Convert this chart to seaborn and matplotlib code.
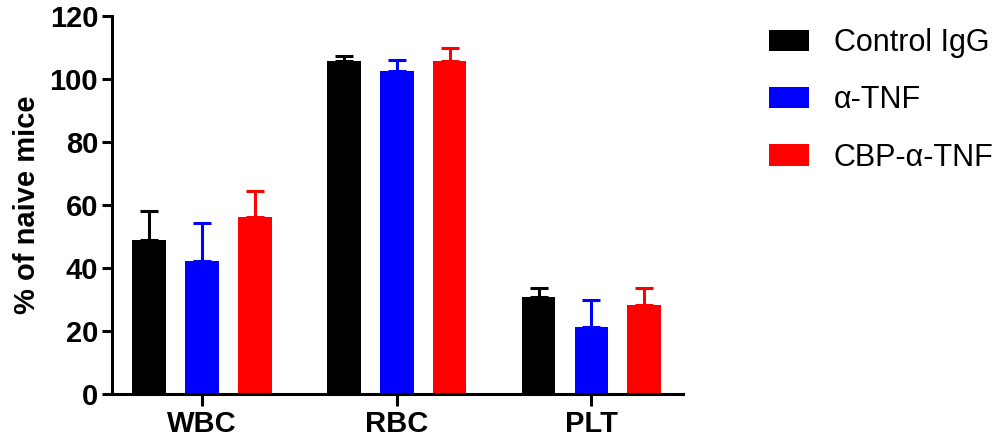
import numpy as np
import pandas as pd
import seaborn as sns
import matplotlib.pyplot as plt

# values
categories = ["WBC", "RBC", "PLT"]
groups = ["Control IgG", "\u03b1-TNF", "CBP-\u03b1-TNF"]
colors = ["#000000", "#0000ff", "#ff0000"]

control_mean = [48.9, 105.7, 30.8]
control_err = [9.0, 1.5, 2.8]
atnf_mean = [42.1, 102.3, 21.4]
atnf_err = [12.3, 3.7, 8.3]
cbp_mean = [56.0, 105.5, 28.1]
cbp_err = [8.5, 4.2, 5.5]

means = [control_mean, atnf_mean, cbp_mean]
errs = [control_err, atnf_err, cbp_err]

df = pd.DataFrame({
    "cell": categories * 3,
    "group": np.repeat(groups, 3),
    "value": control_mean + atnf_mean + cbp_mean,
})

sns.set_style("ticks", {"axes.edgecolor": "black", "text.color": "black",
                        "xtick.color": "black", "ytick.color": "black",
                        "axes.labelcolor": "black"})
plt.rcParams["font.family"] = ["Liberation Sans", "DejaVu Sans"]

fig = plt.figure(figsize=(10.03, 4.48), dpi=100)
ax = fig.add_axes([0.1117, 0.1205, 0.5693, 0.8445])

sns.barplot(data=df, x="cell", y="value", hue="group", order=categories,
            hue_order=groups, palette=colors, width=0.815, gap=0.36,
            saturation=1, errorbar=None, ax=ax, linewidth=0, zorder=2)

# one-sided error bars on top of each bar (drawn behind the bars)
for cont, err, c in zip(ax.containers, errs, colors):
    xs = [b.get_x() + b.get_width() / 2 for b in cont]
    ys = [b.get_height() for b in cont]
    ax.errorbar(xs, ys, yerr=[np.zeros(len(err)), err], fmt="none",
                ecolor=c, elinewidth=2.2, capsize=6.5, capthick=2.2, zorder=1)

ax.set_ylim(0, 120)
ax.set_xlim(-0.46, 2.47)
ax.set_yticks(np.arange(0, 121, 20))
ax.set_xlabel("")
ax.set_ylabel("% of naive mice", fontsize=21, fontweight="bold", labelpad=6)
sns.despine(ax=ax)
for s in ["left", "bottom"]:
    ax.spines[s].set_linewidth(2.2)
    ax.spines[s].set_zorder(3)
ax.tick_params(axis="both", width=2.2, labelsize=21, pad=3, colors="black")
ax.tick_params(axis="y", length=7)
ax.tick_params(axis="x", length=8.5)
for lab in ax.get_xticklabels() + ax.get_yticklabels():
    lab.set_fontweight("bold")

ax.legend(loc="upper left", bbox_to_anchor=(0.767, 0.937),
          bbox_transform=fig.transFigure, frameon=False, fontsize=22,
          borderpad=0, borderaxespad=0, handlelength=1.31, handleheight=0.69,
          handletextpad=0.8, labelspacing=0.89, title=None)

fig.savefig("out.png", dpi=100)
